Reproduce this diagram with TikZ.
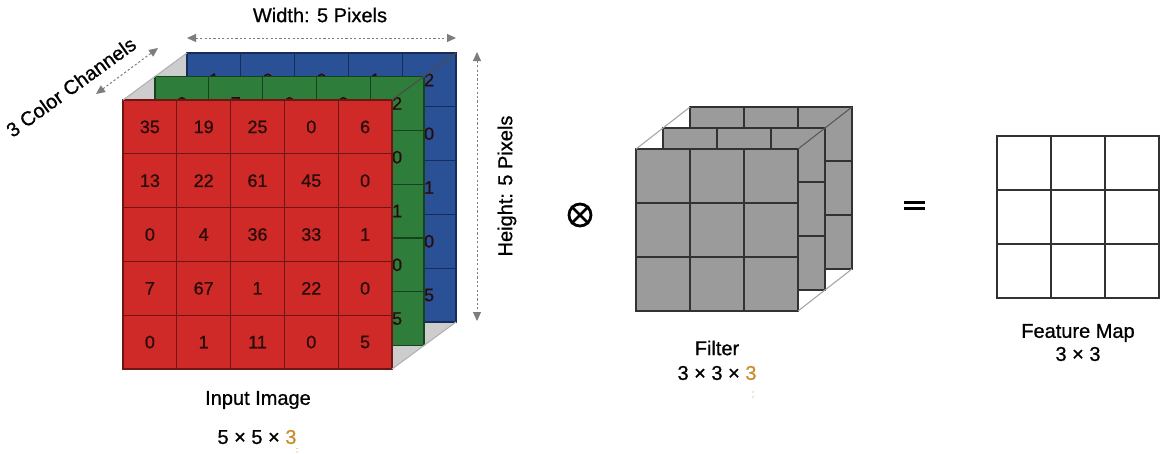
\documentclass[tikz,border=0pt]{standalone}
\usepackage{fontspec}
\setmainfont{Liberation Sans}[BoldFont={Liberation Sans},BoldFeatures={FakeBold=0.8}]
\usetikzlibrary{arrows.meta}
\definecolor{redF}{RGB}{207,42,40}
\definecolor{redL}{RGB}{110,22,20}
\definecolor{greenF}{RGB}{46,125,58}
\definecolor{greenL}{RGB}{22,66,30}
\definecolor{blueF}{RGB}{42,80,150}
\definecolor{blueL}{RGB}{22,44,90}
\definecolor{facet}{RGB}{205,205,205}
\definecolor{filtF}{RGB}{155,155,155}
\definecolor{gridD}{RGB}{50,50,50}
\definecolor{dimC}{RGB}{125,125,125}
\definecolor{orangeT}{RGB}{201,140,43}
\definecolor{numC}{RGB}{40,12,10}
\begin{document}
\begin{tikzpicture}[x=1pt,y=-1pt,
  num/.style={font=\fontsize{18}{21}\selectfont\bfseries, text=numC, inner sep=0pt},
  lbl/.style={font=\fontsize{20}{24}\selectfont\bfseries, text=black, inner sep=0pt},
  dim/.style={dimC, line width=1pt, dash pattern=on 2.2pt off 2.2pt,
     {Triangle[length=9pt,width=8pt]}-{Triangle[length=9pt,width=8pt]}},
  diag/.style={dimC, line width=1.1pt},
  fgrid/.style={gridD, line width=2pt},
]
\useasboundingbox (0,0) rectangle (1162,453);

% ---------- input image ----------
% grey side facets
\fill[facet] (123,100) -- (187,53) -- (187,100) -- cycle;
\fill[facet] (392,369) -- (456,322) -- (392,322) -- cycle;

% blue layer
\fill[blueF] (187,53) rectangle ++(269,269);
\foreach \k in {1,...,4}{
  \draw[blueL, line width=1.2pt] ({187+\k*53.8},53) -- ++(0,269);
  \draw[blueL, line width=1.2pt] (187,{53+\k*53.8}) -- ++(269,0);
}
\draw[blueL, line width=1.2pt] (187,53) rectangle ++(269,269);
\foreach \v [count=\j from 0] in {1,0,0,1,2}
  \node[num] (bt\j) at ({187+26.9+\j*53.8},{53+26.9}) {\v};
\foreach \v [count=\i from 1] in {0,1,0,5}
  \node[num] (br\i) at ({187+26.9+4*53.8},{53+26.9+\i*53.8}) {\v};

% green layer
\fill[greenF] (155,76.5) rectangle ++(269,269);
\foreach \k in {1,...,4}{
  \draw[greenL, line width=1.2pt] ({155+\k*53.8},76.5) -- ++(0,269);
  \draw[greenL, line width=1.2pt] (155,{76.5+\k*53.8}) -- ++(269,0);
}
\draw[greenL, line width=1.2pt] (155,76.5) rectangle ++(269,269);
\foreach \v [count=\j from 0] in {0,7,0,0,2}
  \node[num] (gt\j) at ({155+26.9+\j*53.8},{76.5+26.9}) {\v};
\foreach \v [count=\i from 1] in {0,1,0,5}
  \node[num] (gr\i) at ({155+26.9+4*53.8},{76.5+26.9+\i*53.8}) {\v};

% red layer
\fill[redF] (123,100) rectangle ++(269,269);
\foreach \k in {1,...,4}{
  \draw[redL, line width=1.2pt] ({123+\k*53.8},100) -- ++(0,269);
  \draw[redL, line width=1.2pt] (123,{100+\k*53.8}) -- ++(269,0);
}
\draw[redL, line width=1.2pt] (123,100) rectangle ++(269,269);
\foreach \row [count=\i from 0] in {{35,19,25,0,6},{13,22,61,45,0},{0,4,36,33,1},{7,67,1,22,0},{0,1,11,0,5}}
  \foreach \v [count=\j from 0] in \row
    \node[num] (r\i\j) at ({123+26.9+\j*53.8},{100+26.9+\i*53.8}) {\v};

% depth edges
\draw[diag, gray!60] (123,100) -- (187,53);
\draw[diag, black!70] (392,100) -- (456,53);
\draw[diag, gray!60] (392,369) -- (456,322);

% dimension arrows
\coordinate (wA) at (187,38);
\coordinate (wB) at (456,38);
\draw[dim] (wA) -- (wB);
\node[lbl] (wlbl) at (320,15) {Width: 5 Pixels};

\coordinate (hA) at (477,52);
\coordinate (hB) at (477,321);
\draw[dim] (hA) -- (hB);
\node[lbl, rotate=90] (hlbl) at (507,186) {Height: 5 Pixels};

\coordinate (cA) at (96,94);
\coordinate (cB) at (158,48);
\draw[dim] (cA) -- (cB);
\node[lbl, rotate=36] (clbl) at (71,87) {3 Color Channels};

\node[lbl] (inlbl) at (258,400) {Input Image};
\node[lbl] (indim) at (257,437) {5 × 5 × \textcolor{orangeT}{3}};
\fill[orangeT!45] (297,448.5) circle (0.9);
\fill[orangeT!45] (297,452) circle (0.9);

% ---------- operator ----------
\node[circle, draw=black, line width=2.8pt, minimum size=22pt, inner sep=0pt] (otimes) at (580,215) {};
\draw[black, line width=2.6pt] (otimes.north east) -- (otimes.south west);
\draw[black, line width=2.6pt] (otimes.north west) -- (otimes.south east);

% ---------- filter ----------
% back layer
\fill[filtF] (690,107) rectangle ++(162,162);
\foreach \k in {1,2}{
  \draw[fgrid] ({690+\k*54},107) -- ++(0,162);
  \draw[fgrid] (690,{107+\k*54}) -- ++(162,0);
}
\draw[fgrid] (690,107) rectangle ++(162,162);
% middle layer
\fill[filtF] (663,128) rectangle ++(162,162);
\foreach \k in {1,2}{
  \draw[fgrid] ({663+\k*54},128) -- ++(0,162);
  \draw[fgrid] (663,{128+\k*54}) -- ++(162,0);
}
\draw[fgrid] (663,128) rectangle ++(162,162);
% front layer
\fill[filtF] (636,149) rectangle ++(162,162);
\foreach \k in {1,2}{
  \draw[fgrid] ({636+\k*54},149) -- ++(0,162);
  \draw[fgrid] (636,{149+\k*54}) -- ++(162,0);
}
\draw[fgrid] (636,149) rectangle ++(162,162);
% depth edges
\draw[diag, gray!70] (636,149) -- (690,107);
\draw[diag, black!65] (798,149) -- (852,107);
\draw[diag, gray!70] (798,311) -- (852,269);

\node[lbl] (flbl) at (717,348) {Filter};
\node[lbl] (fdim) at (717,373) {3 × 3 × \textcolor{orangeT}{3}};
\fill[orangeT!45] (753,392) circle (0.9);
\fill[orangeT!45] (753,397) circle (0.9);

% ---------- equals ----------
\coordinate (eqA) at (904,202);
\coordinate (eqB) at (925,202);
\coordinate (eqC) at (904,208.5);
\coordinate (eqD) at (925,208.5);
\draw[black, line width=3pt] (eqA) -- (eqB);
\draw[black, line width=3pt] (eqC) -- (eqD);

% ---------- feature map ----------
\fill[white] (997,136) rectangle ++(162,162);
\foreach \k in {1,2}{
  \draw[fgrid] ({997+\k*54},136) -- ++(0,162);
  \draw[fgrid] (997,{136+\k*54}) -- ++(162,0);
}
\draw[fgrid] (997,136) rectangle ++(162,162);
\node[lbl] (fmlbl) at (1078,333) {Feature Map};
\node[lbl] (fmdim) at (1078,354) {3 × 3};
\end{tikzpicture}
\end{document}
